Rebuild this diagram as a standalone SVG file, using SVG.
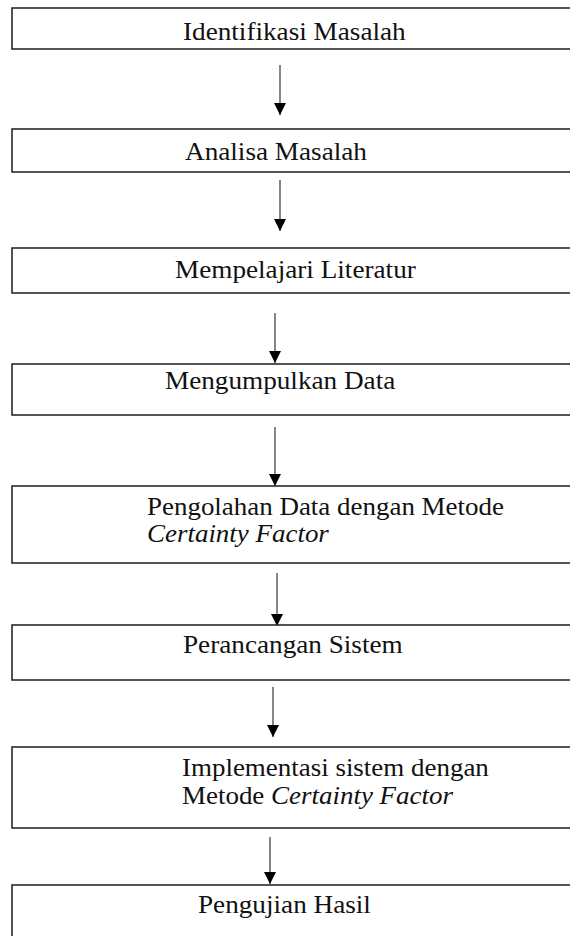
<svg xmlns="http://www.w3.org/2000/svg" width="570" height="936" viewBox="0 0 570 936">
<defs>
<style>
.box{fill:#fff;stroke:#2a2a2a;stroke-width:1.6}
.t{font-family:"Liberation Serif","Times New Roman",serif;font-size:24.5px;fill:#111}
.i{font-style:italic}
.c{stroke:#444;stroke-width:1.3;fill:none;marker-end:url(#ah)}
</style>
<marker id="ah" markerUnits="userSpaceOnUse" markerWidth="14" markerHeight="12" refX="12" refY="6" orient="auto">
<path d="M0,0 L12,6 L0,12 Z" fill="#000"/>
</marker>
</defs>
<rect width="570" height="936" fill="#fff"/>
<g id="connectors">
<line class="c" x1="280" y1="65" x2="280" y2="115"/>
<line class="c" x1="280" y1="180" x2="280" y2="231"/>
<line class="c" x1="275" y1="313" x2="275" y2="363"/>
<line class="c" x1="275" y1="427" x2="275" y2="486"/>
<line class="c" x1="277" y1="573" x2="277" y2="626"/>
<line class="c" x1="273" y1="687" x2="273" y2="737"/>
<line class="c" x1="270" y1="837" x2="270" y2="884"/>
</g>
<g id="n1"><rect class="box" x="12" y="8" width="580" height="41"/>
<text class="t" transform="translate(183,40) scale(1.11,1)">Identifikasi Masalah</text></g>
<g id="n2"><rect class="box" x="12" y="129" width="580" height="43"/>
<text class="t" transform="translate(185,160) scale(1.11,1)">Analisa Masalah</text></g>
<g id="n3"><rect class="box" x="12" y="248" width="580" height="45"/>
<text class="t" transform="translate(175,278) scale(1.11,1)">Mempelajari Literatur</text></g>
<g id="n4"><rect class="box" x="12" y="364" width="580" height="51"/>
<text class="t" transform="translate(165,389) scale(1.11,1)">Mengumpulkan Data</text></g>
<g id="n5"><rect class="box" x="12" y="486" width="580" height="77"/>
<text class="t" transform="translate(147,515) scale(1.1,1)">Pengolahan Data dengan Metode</text>
<text class="t i" transform="translate(147,542) scale(1.1,1)">Certainty Factor</text></g>
<g id="n6"><rect class="box" x="12" y="625" width="580" height="55"/>
<text class="t" transform="translate(183,653) scale(1.11,1)">Perancangan Sistem</text></g>
<g id="n7"><rect class="box" x="12" y="747" width="580" height="81"/>
<text class="t" transform="translate(182,776) scale(1.1,1)">Implementasi sistem dengan</text>
<text class="t" transform="translate(182,804) scale(1.1,1)">Metode <tspan class="i">Certainty Factor</tspan></text></g>
<g id="n8"><rect class="box" x="12" y="885" width="580" height="60"/>
<text class="t" transform="translate(198,913) scale(1.11,1)">Pengujian Hasil</text></g>
</svg>
